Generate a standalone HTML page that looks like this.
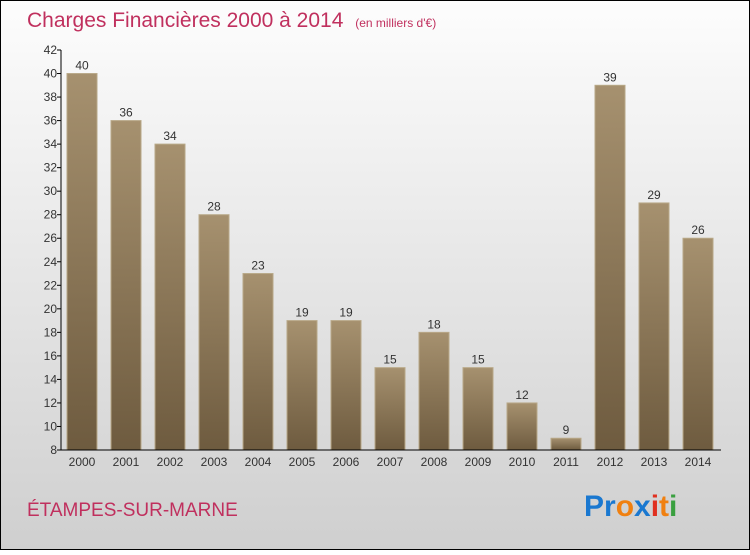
<!DOCTYPE html>
<html><head><meta charset="utf-8"><style>
body{margin:0;width:750px;height:550px;overflow:hidden;font-family:"Liberation Sans",sans-serif}
</style></head><body>
<svg width="750" height="550" xmlns="http://www.w3.org/2000/svg">
<defs>
<linearGradient id="bg" x1="0" y1="0" x2="0" y2="1"><stop offset="0" stop-color="#fdfdfd"/><stop offset="1" stop-color="#cfcfcf"/></linearGradient>
<linearGradient id="bar" x1="0" y1="0" x2="0" y2="1"><stop offset="0" stop-color="#a6916f"/><stop offset="1" stop-color="#6e5b3f"/></linearGradient>
</defs>
<rect x="0.5" y="0.5" width="749" height="549" fill="url(#bg)" stroke="#000"/>
<text x="27" y="27" font-size="21" fill="#c0305e">Charges Financières 2000 à 2014 <tspan font-size="12" dx="6">(en milliers d'€)</tspan></text>
<g id="yaxis"></g>
<g id="bars"></g>
<g id="xaxis"></g>
<text x="27" y="516" font-size="19" fill="#c0305e">ÉTAMPES-SUR-MARNE</text>
<g font-size="30" font-weight="bold">
<text x="584" y="516"><tspan fill="#1a78d0">Pr</tspan><tspan fill="#f08010">o</tspan><tspan fill="#1a78d0">x</tspan><tspan fill="#e03020">i</tspan><tspan fill="#f08010">t</tspan><tspan fill="#3aa040">i</tspan></text>
</g>
</svg>
<script>
const years=["2000","2001","2002","2003","2004","2005","2006","2007","2008","2009","2010","2011","2012","2013","2014"];
const values=[40,36,34,28,23,19,19,15,18,15,12,9,39,29,26];
const yTicks=[8,10,12,14,16,18,20,22,24,26,28,30,32,34,36,38,40,42];
const NS="http://www.w3.org/2000/svg";
const yMin=8,yMax=42,plotTop=50,plotBot=450,plotLeft=61,plotRight=721;
const ys=v=>plotBot-(v-yMin)/(yMax-yMin)*(plotBot-plotTop);
const xs=i=>82+44*i;
function el(t,a,p){const e=document.createElementNS(NS,t);for(const k in a)e.setAttribute(k,a[k]);p.appendChild(e);return e;}
const ya=document.getElementById('yaxis'),ba=document.getElementById('bars'),xa=document.getElementById('xaxis');
el('line',{x1:plotLeft,y1:plotTop,x2:plotLeft,y2:plotBot,stroke:'#000'},ya);
yTicks.forEach(t=>{const y=ys(t);
const l=el('line',{x1:plotLeft-4,y1:y,x2:plotLeft,y2:y,stroke:'#000'},ya);


const tx=el('text',{x:plotLeft-4,y:y+4,'font-size':12,fill:'#333','text-anchor':'end'},ya);tx.textContent=t;

});
values.forEach((v,i)=>{const x=xs(i),y=ys(v);
const r=el('rect',{x:x-15,y:y,width:30,height:plotBot-y,fill:'url(#bar)',stroke:'#b8a888','stroke-width':1},ba);


const t=el('text',{x:x,y:y-4,'font-size':12,fill:'#333','text-anchor':'middle'},ba);t.textContent=v;


const xl=el('text',{x:x,y:plotBot+16,'font-size':12,fill:'#333','text-anchor':'middle'},xa);xl.textContent=years[i];

});
el('line',{x1:plotLeft,y1:plotBot,x2:plotRight,y2:plotBot,stroke:'#000'},xa);
</script>
</body></html>
